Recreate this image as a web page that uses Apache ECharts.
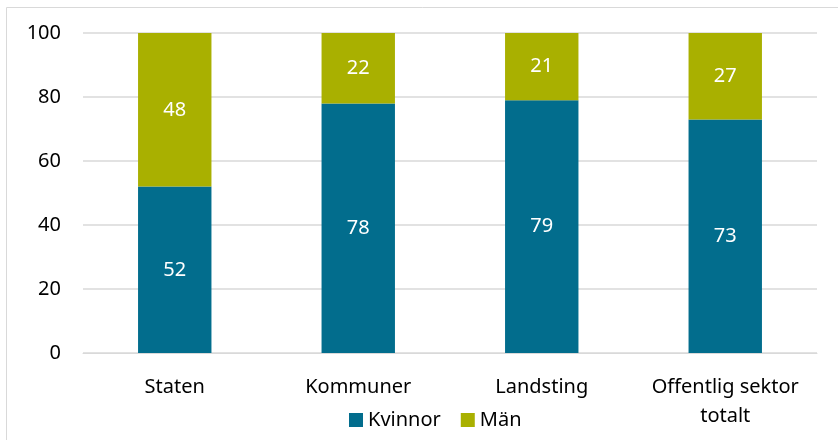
<!DOCTYPE html>
<html lang="sv">
<head>
<meta charset="utf-8" />
<title>Kvinnor och män</title>
<script src="https://cdn.jsdelivr.net/npm/echarts@6/dist/echarts.min.js"></script>
</head>
<body style="margin:0;background:#fff">
<div id="chart" style="width:838px;height:440px"></div>
<script>
const categories = ['Staten', 'Kommuner', 'Landsting', 'Offentlig sektor\ntotalt']
const kvinnor = [52, 78, 79, 73]
const man = [48, 22, 21, 27]
const yTicks = [0, 20, 40, 60, 80, 100]

const font = 'Noto Sans'
let chart = echarts.init(document.getElementById('chart'))

let labelStyle = {
    show: true,
    position: 'inside',
    color: '#fff',
    fontSize: 20,
    fontFamily: font
}

chart.setOption({
    animation: false,
    graphic: [{
        type: 'rect',
        shape: { x: 6.5, y: 7.5, width: 840, height: 440 },
        style: { fill: 'none', stroke: '#d9d9d9', lineWidth: 1 }
    }],
    grid: { left: 83, right: 21, top: 33, bottom: 87 },
    legend: {
        bottom: 5,
        left: 344,
        itemWidth: 14,
        itemHeight: 14,
        itemGap: 20,
        icon: 'rect',
        textStyle: { fontSize: 20, fontFamily: font, color: '#000' },
        data: ['Kvinnor', 'Män']
    },
    xAxis: {
        type: 'category',
        data: categories,
        axisTick: { show: false },
        axisLine: { lineStyle: { color: '#d9d9d9', width: 1 } },
        axisLabel: { interval: 0, fontSize: 20, fontFamily: font, color: '#000', margin: 20, lineHeight: 29 }
    },
    yAxis: {
        type: 'value',
        min: yTicks[0],
        max: yTicks[yTicks.length - 1],
        interval: 20,
        axisLine: { show: false },
        axisTick: { show: false },
        splitLine: { lineStyle: { color: '#d9d9d9', width: 1.5 } },
        axisLabel: { fontSize: 20, fontFamily: font, color: '#000', margin: 22 }
    },
    series: [{
        name: 'Kvinnor',
        type: 'bar',
        stack: 'total',
        data: kvinnor,
        barWidth: '40%',
        itemStyle: { color: '#026d8d' },
        label: labelStyle
    }, {
        name: 'Män',
        type: 'bar',
        stack: 'total',
        data: man,
        barWidth: '40%',
        itemStyle: { color: '#a9b000' },
        label: labelStyle
    }]
})
</script>
</body>
</html>
